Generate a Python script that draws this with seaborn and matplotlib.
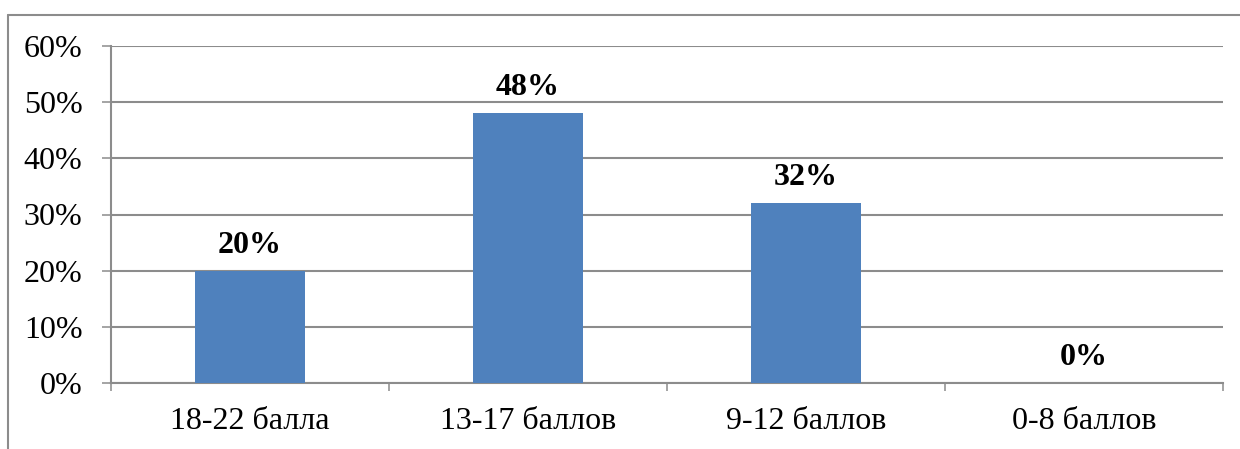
import matplotlib
matplotlib.use("Agg")
import matplotlib.pyplot as plt
import seaborn as sns
import pandas as pd
from matplotlib.lines import Line2D
from matplotlib.ticker import FixedLocator, FuncFormatter

categories = ["18-22 балла", "13-17 баллов", "9-12 баллов", "0-8 баллов"]
values = [20, 48, 32, 0]
value_labels = ["20%", "48%", "32%", "0%"]
yticks = [0, 10, 20, 30, 40, 50, 60]

sns.set_theme(style="white")
plt.rcParams['font.family'] = ['Liberation Serif', 'DejaVu Serif']

df = pd.DataFrame({"cat": categories, "val": values})

W, H = 1240, 449
fig = plt.figure(figsize=(W/100, H/100), dpi=100)
fig.patch.set_facecolor("white")
ax = fig.add_axes([111/W, 1-383/H, (1223-111)/W, (383-46)/H])

sns.barplot(data=df, x="cat", y="val", color="#4F81BD", saturation=1,
            width=0.396, ax=ax, zorder=3, linewidth=0, edgecolor="none")

ax.set_xlim(-0.5, 3.5)
ax.set_ylim(0, 60)
ax.set_yticks(yticks)
ax.yaxis.set_major_formatter(FuncFormatter(lambda v, p: f"{int(v)}%"))
ax.grid(axis="y", color="#8c8c8c", linewidth=1.5, zorder=0)
ax.set_axisbelow(True)
ax.set_xlabel("")
ax.set_ylabel("")

for s in ["top", "right"]:
    ax.spines[s].set_visible(False)
for s in ["left", "bottom"]:
    ax.spines[s].set_color("#8c8c8c")
    ax.spines[s].set_linewidth(1.5)

ax.tick_params(axis="y", which="major", length=6.5, width=1.1, color="#8c8c8c",
               direction="out", pad=14, labelsize=23, labelcolor="black", left=True)
ax.tick_params(axis="x", which="major", length=0, pad=17, labelsize=23, labelcolor="black")
ax.xaxis.set_minor_locator(FixedLocator([-0.5, 0.5, 1.5, 2.5, 3.5]))
ax.tick_params(axis="x", which="minor", length=6, width=1.1, color="#8c8c8c",
               direction="out", bottom=True)

for i, (v, lab) in enumerate(zip(values, value_labels)):
    ax.annotate(lab, (i, v), xytext=(0, 8), textcoords="offset points",
                ha="center", va="bottom", fontsize=23, fontweight="bold", color="black")

# outer border (top and left visible)
fig.add_artist(Line2D([8/W, 8/W], [0, 1-15/H], transform=fig.transFigure,
                      color="#8c8c8c", linewidth=1.5))
fig.add_artist(Line2D([8/W, 1], [1-15/H, 1-15/H], transform=fig.transFigure,
                      color="#8c8c8c", linewidth=1.5))

fig.savefig("out.png", dpi=100, facecolor="white")
